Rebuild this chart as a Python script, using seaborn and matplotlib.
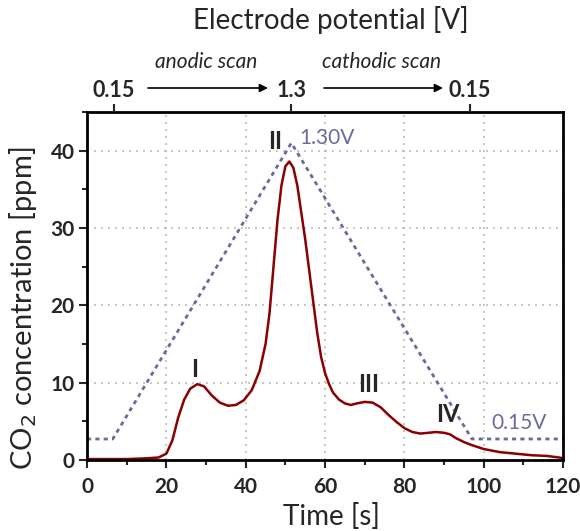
import numpy as np
import pandas as pd
import seaborn as sns
import matplotlib
matplotlib.use('Agg')
import matplotlib.pyplot as plt
from matplotlib.ticker import MultipleLocator

# CO2 trace
time_s = [0, 10, 15, 18, 20, 21.5, 23, 24.5, 26, 27.8, 29.5, 31.5, 33.5, 35.5,
          37.5, 39.5, 41.5, 43.5, 45, 46, 47, 48, 49, 50, 51, 52, 53, 54, 55,
          56, 57, 58, 59, 60, 61, 62, 63.5, 65, 66.5, 68, 70, 72, 74, 76, 78,
          80, 82, 84, 86, 88, 90, 91.5, 93, 95, 97, 100, 104, 108, 112, 116,
          119, 120]
co2_ppm = [0.1, 0.1, 0.2, 0.3, 0.8, 2.5, 5.5, 7.8, 9.2, 9.8, 9.5, 8.3, 7.4, 7.0,
           7.1, 7.7, 9.0, 11.5, 15, 19, 25, 31, 35.5, 38, 38.6, 37.8, 35.5, 32,
           28.5, 24.5, 20.5, 16.5, 13.3, 11.2, 9.8, 8.7, 7.8, 7.3, 7.1, 7.3, 7.5,
           7.4, 6.8, 5.8, 4.9, 4.1, 3.6, 3.4, 3.5, 3.6, 3.5, 3.3, 2.8, 2.3, 1.9,
           1.4, 1.0, 0.8, 0.6, 0.5, 0.3, 0.2]

# potential sweep (drawn on the ppm scale)
pot_time = [0, 6.5, 51.5, 97, 120]
pot_level = [2.7, 2.7, 41, 2.7, 2.7]

peak_names = ['I', 'II', 'III', 'IV']
peak_pos = [(27, 10.2), (47.5, 39.7), (71, 8.3), (91, 4.4)]

top_ticks = [6.8, 51.5, 96.5]
top_labels = ['0.15', '1.3', '0.15']

red = '#8b0000'
blue = '#6a6a9f'

sns.set_style('ticks')
plt.rcParams['font.family'] = ['Lato', 'DejaVu Sans']

fig = plt.figure(figsize=(5.8, 5.31), dpi=100)
ax = fig.add_axes([0.15, 0.134, 0.821, 0.655])

df = pd.DataFrame({'t': time_s, 'c': co2_ppm})
dp = pd.DataFrame({'t': pot_time, 'v': pot_level})
sns.lineplot(data=dp, x='t', y='v', ax=ax, color=blue, lw=2,
             linestyle=(0, (1.5, 1.5)))
sns.lineplot(data=df, x='t', y='c', ax=ax, color=red, lw=1.8)

ax.set_xlim(0, 120)
ax.set_ylim(0, 45)
ax.xaxis.set_major_locator(MultipleLocator(20))
ax.xaxis.set_minor_locator(MultipleLocator(10))
ax.yaxis.set_major_locator(MultipleLocator(10))
ax.yaxis.set_minor_locator(MultipleLocator(5))
ax.grid(True, which='major', color='#bbbbbb', lw=1.2, linestyle=(0, (1.2, 3)))
ax.tick_params(which='major', direction='out', length=6, width=1.5,
               labelsize=15)
ax.tick_params(axis='x', pad=6)
ax.tick_params(axis='y', pad=3)
ax.tick_params(which='minor', direction='out', length=3.5, width=1.5)
ax.tick_params(top=False, right=False, which='both')
for lab in ax.get_xticklabels() + ax.get_yticklabels():
    lab.set_fontweight('bold')
for s in ax.spines.values():
    s.set_linewidth(2)
    s.set_color('black')

ax.set_xlabel('Time [s]', fontsize=20, va='center')
ax.xaxis.set_label_coords(0.513, -0.164)
ax.set_ylabel('CO$_2$ concentration [ppm]', fontsize=21, va='center')
ax.yaxis.set_label_coords(-0.134, 0.437)

for name, (x, y) in zip(peak_names, peak_pos):
    ax.text(x, y, name, ha='center', va='bottom', fontsize=17,
            fontweight='bold')
ax.text(53.5, 41.7, '1.30V', color=blue, fontsize=15, va='center')
ax.text(102, 4.8, '0.15V', color=blue, fontsize=15, va='center')

top = ax.twiny()
top.set_xlim(ax.get_xlim())
top.set_xticks(top_ticks)
top.set_xticklabels(top_labels, fontsize=15.5, fontweight='bold')
top.tick_params(direction='out', length=6, width=1.5, pad=2)
top.set_xlabel('Electrode potential [V]', fontsize=20, va='center')
top.xaxis.set_label_coords(0.513, 1.264)
for s in top.spines.values():
    s.set_visible(False)

arrow = dict(arrowstyle='-|>', color='black', lw=1.2, mutation_scale=12,
             shrinkA=0, shrinkB=0)
ax.annotate('', xy=(268 / 580, 1 - 88 / 531), xytext=(148 / 580, 1 - 88 / 531),
            xycoords='figure fraction', arrowprops=arrow)
ax.annotate('', xy=(443 / 580, 1 - 88 / 531), xytext=(324 / 580, 1 - 88 / 531),
            xycoords='figure fraction', arrowprops=arrow)
fig.text(206 / 580, 1 - 62 / 531, 'anodic scan', style='italic', fontsize=15,
         ha='center', va='center')
fig.text(382 / 580, 1 - 62 / 531, 'cathodic scan', style='italic', fontsize=15,
         ha='center', va='center')

fig.savefig('out.png', dpi=100)
